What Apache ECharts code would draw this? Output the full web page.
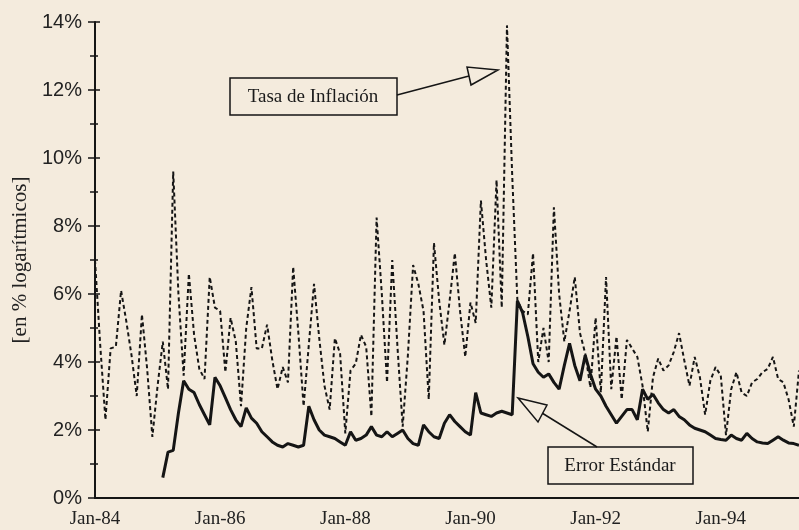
<!DOCTYPE html>
<html>
<head>
<meta charset="utf-8">
<script src="https://cdn.jsdelivr.net/npm/echarts@6/dist/echarts.min.js"></script>
<style>
html,body{margin:0;padding:0;background:#f4ebdd;}
#chart{width:799px;height:530px;}
</style>
</head>
<body>
<div id="chart"></div>
<script>
// ---- data ----
const monthNames = ['Jan','Feb','Mar','Apr','May','Jun','Jul','Aug','Sep','Oct','Nov','Dec'];
const startYear = 1984;
const tickLabels = ['Jan-84','Jan-86','Jan-88','Jan-90','Jan-92','Jan-94'];
const yTicks = [0, 2, 4, 6, 8, 10, 12, 14];

// Tasa de Inflación (monthly, % log)
const inflation = [
  7.0, 4.5, 2.3, 4.4, 4.45, 6.1, 5.2, 4.2, 3.0, 5.4, 3.8, 1.8,
  3.3, 4.6, 3.2, 9.6, 6.0, 3.6, 6.6, 4.8, 3.8, 3.5, 6.5, 5.6,
  5.5, 3.7, 5.3, 4.6, 2.7, 5.0, 6.2, 4.4, 4.4, 5.1, 4.05, 3.2,
  3.85, 3.4, 6.8, 4.85, 2.7, 4.5, 6.3, 4.7, 3.3, 2.6, 4.7, 4.25,
  1.9, 3.75, 3.95, 4.8, 4.45, 2.4, 8.25, 6.0, 3.4, 7.0, 4.45, 2.1,
  4.2, 6.85, 6.3, 5.5, 2.9, 7.5, 5.8, 4.5, 5.8, 7.2, 5.5, 4.15,
  5.75, 5.15, 8.75, 7.0, 5.6, 9.35, 5.6, 13.9, 9.5, 5.8, 5.5, 5.4,
  7.2, 4.0, 5.0, 4.0, 8.55, 6.0, 4.6, 5.5, 6.5, 4.85, 4.25, 3.25,
  5.3, 3.1, 6.5, 3.2, 4.75, 2.9, 4.65, 4.4, 4.15, 3.3, 1.95, 3.55,
  4.1, 3.75, 3.9, 4.3, 4.85, 4.05, 3.3, 4.15, 3.55, 2.45, 3.45, 3.85,
  3.6, 1.85, 3.2, 3.7, 3.1, 3.0, 3.4, 3.5, 3.7, 3.8, 4.15, 3.5,
  3.4, 2.9, 2.1, 3.75
];

// Error Estándar (monthly, % log)
const stdError = [
  null, null, null, null, null, null, null, null, null, null, null, null,
  null, 0.6, 1.35, 1.4, 2.5, 3.45, 3.2, 3.1, 2.75, 2.45, 2.15, 3.55,
  3.3, 2.95, 2.6, 2.3, 2.1, 2.65, 2.35, 2.2, 1.95, 1.8, 1.65, 1.55,
  1.5, 1.6, 1.55, 1.5, 1.55, 2.7, 2.3, 2.0, 1.85, 1.8, 1.75, 1.65,
  1.55, 1.95, 1.7, 1.75, 1.85, 2.1, 1.85, 1.8, 1.95, 1.8, 1.9, 2.0,
  1.75, 1.6, 1.55, 2.15, 1.95, 1.8, 1.75, 2.2, 2.45, 2.25, 2.1, 1.95,
  1.85, 3.1, 2.5, 2.45, 2.4, 2.5, 2.55, 2.5, 2.45, 5.8, 5.45, 4.75,
  3.95, 3.7, 3.55, 3.65, 3.4, 3.2, 3.9, 4.55, 3.9, 3.45, 4.2, 3.65,
  3.2, 3.0, 2.7, 2.45, 2.2, 2.4, 2.6, 2.6, 2.3, 3.2, 2.9, 3.05,
  2.8, 2.6, 2.5, 2.6, 2.4, 2.3, 2.15, 2.05, 2.0, 1.95, 1.85, 1.75,
  1.72, 1.7, 1.85, 1.75, 1.7, 1.9, 1.75, 1.65, 1.62, 1.6, 1.7, 1.8,
  1.7, 1.62, 1.6, 1.55
];

const categories = [];
for (let i = 0; i < inflation.length; i++) {
  const y = startYear + Math.floor(i / 12);
  categories.push(monthNames[i % 12] + '-' + String(y).slice(2));
}

// ---- chart ----
const BG = '#f4ebdd';
const INK = '#151515';
const serif = '"Liberation Serif","DejaVu Serif",serif';
const sans = '"Liberation Sans",Arial,sans-serif';

const chart = echarts.init(document.getElementById('chart'), null, {renderer: 'canvas'});
chart.setOption({
  backgroundColor: BG,
  animation: false,
  grid: {left: 95, right: 0, top: 22, bottom: 32, containLabel: false, outerBoundsMode: 'none'},
  xAxis: [{
    type: 'category',
    data: categories,
    boundaryGap: false,
    axisLine: {lineStyle: {color: INK, width: 2}},
    axisTick: {show: false},
    axisLabel: {
      interval: (idx, val) => tickLabels.includes(val),
      color: '#222', fontFamily: serif, fontSize: 19, margin: 12
    },
    splitLine: {show: false}
  }, {
    type: 'category',
    data: categories,
    boundaryGap: false,
    position: 'top',
    axisLine: {lineStyle: {color: INK, width: 2}},
    axisTick: {show: false},
    axisLabel: {show: false},
    splitLine: {show: false}
  }],
  yAxis: [{
    type: 'value',
    min: yTicks[0], max: yTicks[yTicks.length - 1], interval: 2,
    name: '[en % logarítmicos]',
    nameLocation: 'middle',
    nameGap: 64,
    nameRotate: 90,
    nameTextStyle: {fontFamily: serif, fontSize: 21, color: '#222'},
    axisLine: {show: true, lineStyle: {color: INK, width: 2}},
    axisTick: {show: true, length: 7, lineStyle: {color: INK, width: 1.5}},
    minorTick: {show: true, splitNumber: 2, length: 5, lineStyle: {color: INK, width: 1.5}},
    axisLabel: {formatter: '{value}%', color: '#222', fontFamily: sans, fontSize: 20, margin: 13},
    splitLine: {show: false}
  }, {
    type: 'value',
    min: yTicks[0], max: yTicks[yTicks.length - 1], interval: 2,
    position: 'left',
    alignTicks: false,
    axisLine: {show: false},
    axisTick: {show: true, inside: true, length: 5, lineStyle: {color: INK, width: 1.5}},
    minorTick: {show: true, splitNumber: 2, length: 3, lineStyle: {color: INK, width: 1.5}},
    axisLabel: {show: false},
    splitLine: {show: false}
  }],
  series: [{
    name: 'Tasa de Inflación',
    type: 'line',
    data: inflation,
    symbol: 'none',
    lineStyle: {color: INK, width: 2, type: [4, 3]},
    z: 3
  }, {
    name: 'Error Estándar',
    type: 'line',
    data: stdError,
    symbol: 'none',
    connectNulls: false,
    lineStyle: {color: INK, width: 3},
    z: 4
  }],
  graphic: [
    {type: 'rect', shape: {x: 230, y: 78, width: 167, height: 37},
     style: {fill: BG, stroke: INK, lineWidth: 1.5}, z: 100},
    {type: 'text', x: 313, y: 97,
     style: {text: 'Tasa de Inflación', fill: '#1a1a1a', font: '19px ' + serif, align: 'center', verticalAlign: 'middle'}, z: 101},
    {type: 'line', shape: {x1: 397, y1: 95, x2: 469, y2: 76},
     style: {stroke: INK, lineWidth: 1.5}, z: 100},
    {type: 'polygon', shape: {points: [[498, 70], [467, 67], [471, 85]]},
     style: {fill: BG, stroke: INK, lineWidth: 1.5}, z: 100},
    {type: 'rect', shape: {x: 548, y: 447, width: 145, height: 37},
     style: {fill: BG, stroke: INK, lineWidth: 1.5}, z: 100},
    {type: 'text', x: 620, y: 466,
     style: {text: 'Error Estándar', fill: '#1a1a1a', font: '19px ' + serif, align: 'center', verticalAlign: 'middle'}, z: 101},
    {type: 'line', shape: {x1: 597, y1: 447, x2: 542, y2: 413},
     style: {stroke: INK, lineWidth: 1.5}, z: 100},
    {type: 'polygon', shape: {points: [[518, 398], [547, 405], [538, 422]]},
     style: {fill: BG, stroke: INK, lineWidth: 1.5}, z: 100}
  ]
});
</script>
</body>
</html>
